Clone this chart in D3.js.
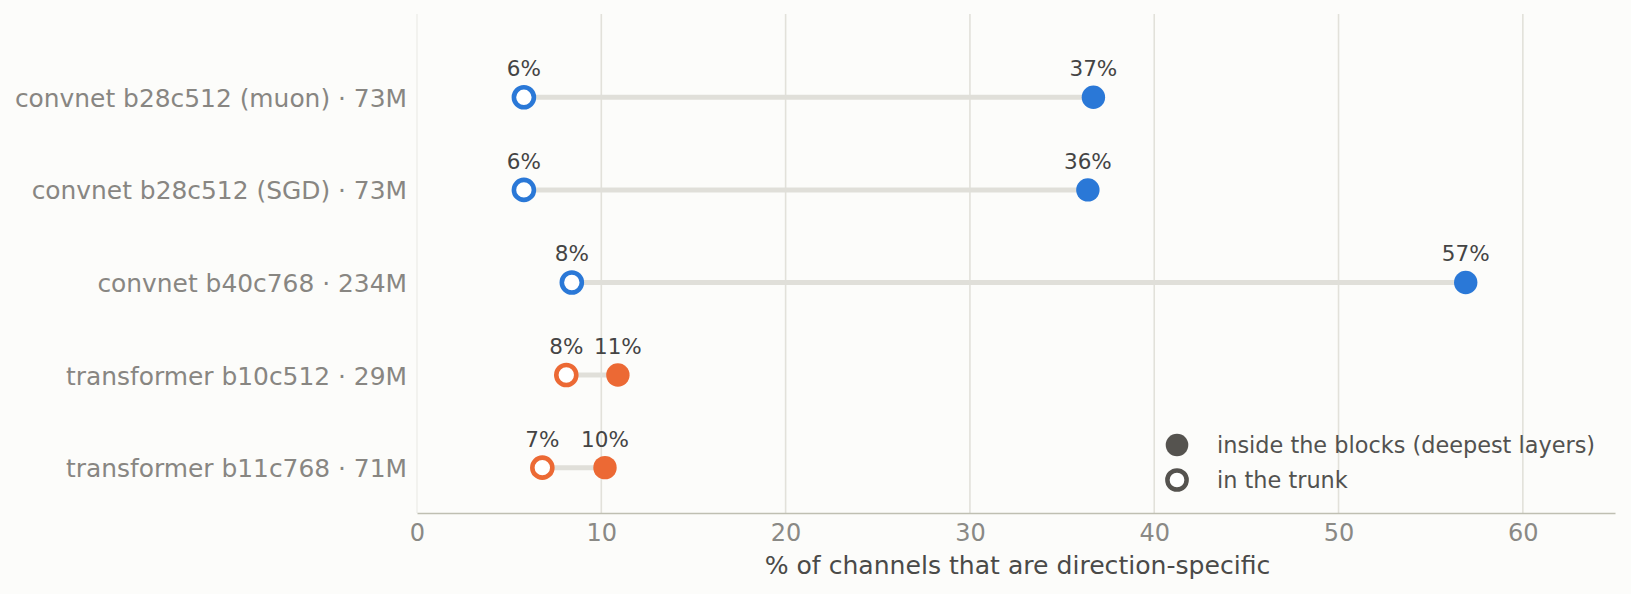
<!DOCTYPE html>
<html>
<head>
<meta charset="utf-8">
<script src="https://cdn.jsdelivr.net/npm/d3@7"></script>
<style>
  html, body { margin: 0; padding: 0; background: #fcfcfa; }
  svg { display: block; font-family: "DejaVu Sans", sans-serif; }
</style>
</head>
<body>
<div id="chart"></div>
<script>
// data
var models = [
  "convnet b28c512 (muon) · 73M",
  "convnet b28c512 (SGD) · 73M",
  "convnet b40c768 · 234M",
  "transformer b10c512 · 29M",
  "transformer b11c768 · 71M"
];
var family = ["convnet", "convnet", "convnet", "transformer", "transformer"];
var trunkPct = [5.8, 5.8, 8.4, 8.1, 6.8];
var blockPct = [36.7, 36.4, 56.9, 10.9, 10.2];
var xTicks = [0, 10, 20, 30, 40, 50, 60];
var legendLabels = ["inside the blocks (deepest layers)", "in the trunk"];

var colors = { convnet: "#2a78d7", transformer: "#ec6934" };

var W = 1631, H = 594;
var margin = { top: 14, right: 16, bottom: 81, left: 417 };
var width = W - margin.left - margin.right;
var height = H - margin.top - margin.bottom;

var svg = d3.select("#chart").append("svg")
  .attr("width", W).attr("height", H);
svg.append("rect").attr("width", W).attr("height", H).attr("fill", "#fcfcfa");

var g = svg.append("g").attr("transform", `translate(${margin.left},${margin.top})`);

var x = d3.scaleLinear().domain([0, 65]).range([0, width]);
var y = d3.scaleLinear().domain([-0.9, 4.49]).range([0, height]);

// grid lines
g.selectAll(".grid").data(xTicks).enter().append("line")
  .attr("x1", d => x(d)).attr("x2", d => x(d))
  .attr("y1", 0).attr("y2", height)
  .attr("stroke", d => d === 0 ? "#e8e8e3" : "#e2e1da")
  .attr("stroke-width", d => d === 0 ? 1 : 1.6);

// x axis
var xAxis = g.append("g").attr("transform", `translate(0,${height})`)
  .call(d3.axisBottom(x).tickValues(xTicks).tickSize(0).tickPadding(11).tickFormat(d3.format("d")));
xAxis.select(".domain").attr("stroke", "#bfbfb2").attr("stroke-width", 1.6);
xAxis.selectAll("text").attr("font-size", 24).attr("fill", "#8a8985").attr("font-family", "DejaVu Sans");

g.append("text")
  .attr("x", (766 + 1269) / 2 - margin.left)
  .attr("y", 574 - margin.top)
  .attr("text-anchor", "middle")
  .attr("font-size", 25.1)
  .attr("fill", "#4a4a48")
  .text("% of channels that are direction-specific");

// y labels
var yAxis = g.append("g")
  .call(d3.axisLeft(y).tickValues(d3.range(models.length)).tickSize(0).tickPadding(10)
    .tickFormat(i => models[i]));
yAxis.select(".domain").remove();
yAxis.selectAll("text").attr("font-size", 24.9).attr("fill", "#888682")
  .attr("font-family", "DejaVu Sans").attr("dy", "0.36em");

var rows = models.map((m, i) => ({ i: i, fam: family[i], lo: trunkPct[i], hi: blockPct[i] }));

// connectors
g.selectAll(".conn").data(rows).enter().append("line")
  .attr("x1", d => x(d.lo)).attr("x2", d => x(d.hi))
  .attr("y1", d => y(d.i)).attr("y2", d => y(d.i))
  .attr("stroke", "#e0dfd9").attr("stroke-width", 5);

// blocks (filled)
g.selectAll(".hi").data(rows).enter().append("circle")
  .attr("cx", d => x(d.hi)).attr("cy", d => y(d.i)).attr("r", 11.7)
  .attr("fill", d => colors[d.fam]);

// trunk (hollow)
g.selectAll(".lo").data(rows).enter().append("circle")
  .attr("cx", d => x(d.lo)).attr("cy", d => y(d.i)).attr("r", 10)
  .attr("fill", "#ffffff").attr("stroke", d => colors[d.fam]).attr("stroke-width", 4.6);

// value labels
var fmt = v => d3.format(".0f")(v) + "%";
rows.forEach(function(d) {
  [d.lo, d.hi].forEach(function(v) {
    g.append("text")
      .attr("x", x(v)).attr("y", y(d.i) - 21)
      .attr("text-anchor", "middle")
      .attr("font-size", 21.5)
      .attr("fill", "#444444")
      .text(fmt(v));
  });
});

// legend
var leg = svg.append("g").attr("transform", "translate(1177,445)");
leg.append("circle").attr("cx", 0).attr("cy", 0).attr("r", 11.3).attr("fill", "#55534f");
leg.append("circle").attr("cx", 0).attr("cy", 35).attr("r", 9.6)
  .attr("fill", "#ffffff").attr("stroke", "#55534f").attr("stroke-width", 4.5);
leg.selectAll(".lt").data(legendLabels).enter().append("text")
  .attr("x", 40).attr("y", (d, i) => i * 35)
  .attr("dy", "0.35em")
  .attr("font-size", 22.4)
  .attr("fill", "#525250")
  .text(d => d);
</script>
</body>
</html>
